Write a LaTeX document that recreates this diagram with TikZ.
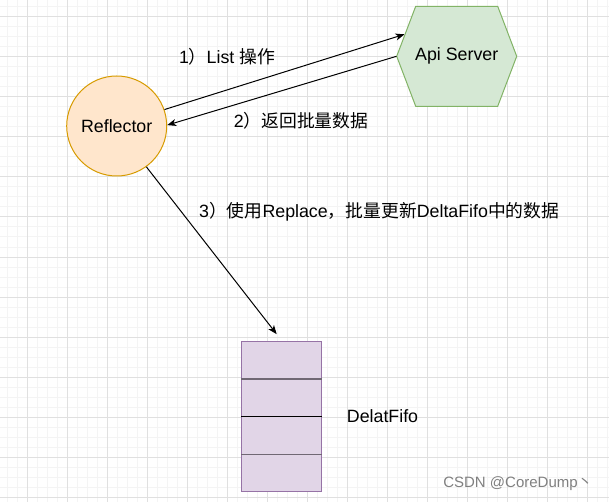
\documentclass[tikz,border=0pt]{standalone}
\usepackage{fontspec}
\setmainfont{Liberation Sans}
\newfontfamily\cjk{Noto Sans CJK SC}
\newcommand\zhtext[1]{{\cjk #1}}
\usetikzlibrary{arrows.meta, calc}

\begin{document}
\begin{tikzpicture}[x=1pt, y=-1pt,
  conn/.style={line width=1pt, -{Stealth[length=9pt, width=7pt, inset=2.5pt]}},
  lbl/.style={font=\fontsize{\fsize}{21}\selectfont, inner sep=0pt}]

\def\fsize{17.8}
\definecolor{gridminor}{RGB}{244,244,244}
\definecolor{gridmajor}{RGB}{224,224,224}
\definecolor{reflfill}{HTML}{FFE6CC}
\definecolor{refldraw}{HTML}{D79B00}
\definecolor{apifill}{HTML}{D5E8D4}
\definecolor{apidraw}{HTML}{82B366}
\definecolor{fifofill}{HTML}{E1D5E7}
\definecolor{fifodraw}{HTML}{9673A6}
\definecolor{fifoline}{RGB}{112,104,116}

\useasboundingbox[fill=white] (0,0) rectangle (609,502);

% Raster
\foreach \i in {0,...,60} \draw[gridminor] (6.7+10*\i,0) -- (6.7+10*\i,502);
\foreach \i in {0,...,49} \draw[gridminor] (0,6.7+10*\i) -- (609,6.7+10*\i);
\foreach \i in {0,...,14} \draw[gridmajor] (26.7+40*\i,0) -- (26.7+40*\i,502);
\foreach \i in {0,...,12} \draw[gridmajor] (0,16.7+40*\i) -- (609,16.7+40*\i);

% Sechseck
\draw[apidraw, fill=apifill, line width=1pt] (396.7,56.3) -- (415.7,6.3) -- (497.7,6.3) -- (516.7,56.3) -- (497.7,106.3) -- (415.7,106.3) -- cycle;
\node[lbl, minimum width=120pt, minimum height=100pt] (api) at (456.7,56.3) {Api Server};

\node[lbl, circle, draw=refldraw, fill=reflfill, line width=1pt, minimum size=100pt] (reflector) at (116.7,126) {Reflector};

% Fifo
\node[draw=fifodraw, fill=fifofill, line width=1pt, minimum width=80pt, minimum height=150pt, inner sep=0pt] (fifo) at (281.7,416.7) {};
\foreach \t/\c/\w in {0.25/fifoline/1.6, 0.5/black/1, 0.75/fifoline/1.6}
  \draw[\c, line width=\w pt] ($(fifo.north west)!\t!(fifo.south west)$) -- ($(fifo.north east)!\t!(fifo.south east)$);
\node[lbl, anchor=west] (fifolabel) at (346.7,416) {DelatFifo};

% Pfeile
\draw[conn] (reflector.19) -- ($(api.west)+(8,-22)$);
\draw[conn] (api.west) -- (reflector.1);
\draw[conn] (reflector.-54) -- ($(fifo.north)+(-5,-7)$);

% Beschriftungen
\node[lbl] (lbllist) at (227,56.7) {1\zhtext{）}List \zhtext{操作}};
\node[lbl] (lblreturn) at (301,121) {2\zhtext{）返回批量数据}};
\node[lbl, anchor=west] (lblreplace) at (199,211.7) {3\zhtext{）使用}Replace\zhtext{，批量更新}DeltaFifo\zhtext{中的数据}};

\node[font=\fontsize{15}{18}\selectfont, text=gray, inner sep=0pt] (watermark) at (518,484) {CSDN @CoreDump\zhtext{丶}};

\end{tikzpicture}
\end{document}
